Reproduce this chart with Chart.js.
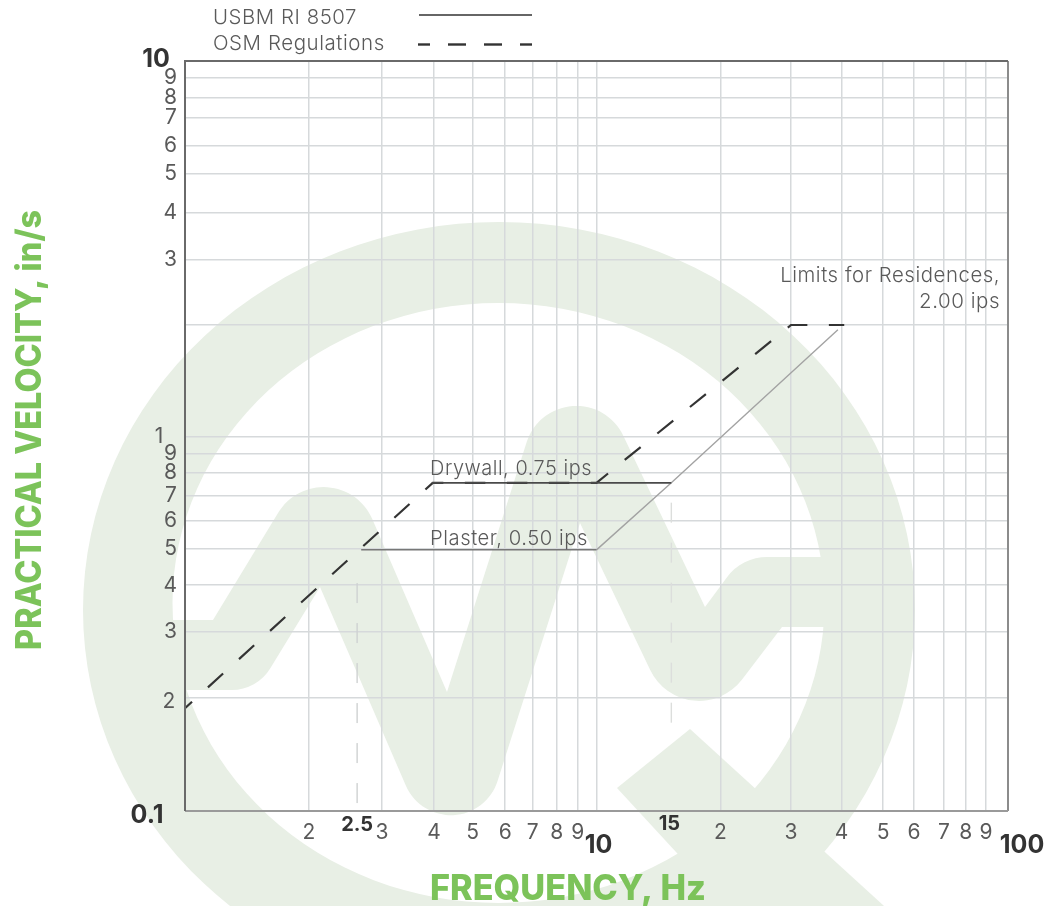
<!DOCTYPE html>
<html>
<head>
<meta charset="utf-8">
<title>Practical velocity vs frequency</title>
<script src="https://cdn.jsdelivr.net/npm/chart.js@4"></script>
<style>
    html, body { margin: 0; padding: 0; background: #fff; }
    canvas { display: block; filter: blur(0.6px); }
</style>
</head>
<body>
<canvas id="chart" width="1047" height="906"></canvas>
<script>
// values, the printed grid is a little off a true log grid
const xTicks = [1, 2, 3.01, 4.03, 5, 6, 7, 8, 9, 10, 20, 29.7, 39.4, 49.7, 59.1, 69.9, 78.9, 88.4, 100]
const xTickLabels = ["", "2", "3", "4", "5", "6", "7", "8", "9", "", "2", "3", "4", "5", "6", "7", "8", "9", ""]
const yTicks = [0.1, 0.201, 0.3, 0.4, 0.5, 0.593, 0.693, 0.8, 0.895, 0.994, 1.977, 2.95, 3.94, 5, 5.94, 7.05, 8, 9, 10]
const yTickLabels = ["", "", "3", "4", "5", "6", "7", "8", "9", "", "", "3", "4", "5", "6", "7", "8", "9", ""]

const osmFreq = [1, 4, 10, 29.7, 40]
const osmVel = [0.188, 0.75, 0.75, 1.977, 1.977]
const plasterFreq = [2.68, 10]
const plasterVel = [0.497, 0.497]
const drywallFreq = [3.98, 15.2]
const drywallVel = [0.75, 0.75]
const slopeFreq = [10, 15.2, 38.6]
const slopeVel = [0.497, 0.75, 1.92]
const guideLowFreq = [2.62, 2.62]
const guideLowVel = [0.105, 0.408]
const guideHighFreq = [15.2, 15.2]
const guideHighVel = [0.172, 0.675]

const xTitle = "FREQUENCY, Hz"
const yTitle = "PRACTICAL VELOCITY, in/s"
const legendLabels = ["USBM RI 8507", "OSM Regulations"]

const FONT = "Inter, sans-serif"
const TEXT = "#5a5a5a"
const DARK = "#333333"
const GREEN = "#7cc35a"
const LOGO = "#e8efe5"
const GRID = "#d6d9db"

function toPoints(xs, ys) {
    return xs.map((x, i) => ({ x: x, y: ys[i] }))
}

// rounded polygon, each vertex is [x, y, radius]
function roundedPath(ctx, pts) {
    ctx.beginPath()
    const n = pts.length
    ctx.moveTo((pts[n - 1][0] + pts[0][0]) / 2, (pts[n - 1][1] + pts[0][1]) / 2)
    pts.forEach((p, i) => {
        const next = pts[(i + 1) % n]
        if (p[2]) ctx.arcTo(p[0], p[1], next[0], next[1], p[2])
        else ctx.lineTo(p[0], p[1])
    })
    ctx.closePath()
}

// pale logo behind the chart, this is decoration and not data
const backdrop = {
    id: "backdrop",
    beforeDraw(chart) {
        const ctx = chart.ctx
        ctx.save()
        ctx.fillStyle = "#ffffff"
        ctx.fillRect(0, 0, chart.width, chart.height)
        ctx.fillStyle = LOGO
        // ring
        ctx.beginPath()
        ctx.ellipse(499, 610, 416, 388, 0, 0, Math.PI * 2)
        ctx.ellipse(498.5, 603, 326, 300, 0, 0, Math.PI * 2)
        ctx.fill("evenodd")
        // wave
        roundedPath(ctx, [
            [130, 620, 0], [213, 620, 0], [331.6, 425, 53], [447, 692, 0],
            [566.6, 317, 52], [705, 607, 0], [742, 557, 50], [850, 557, 0],
            [850, 627, 0], [782, 627, 0], [688.5, 750, 54], [580, 523, 0],
            [457.8, 905.6, 49], [320, 587, 0], [257, 690, 45], [130, 690, 0],
        ])
        ctx.fill()
        // tail
        ctx.beginPath()
        ctx.moveTo(617, 788)
        ctx.lineTo(690, 729)
        ctx.lineTo(895, 916)
        ctx.lineTo(735, 916)
        ctx.closePath()
        ctx.fill()
        ctx.restore()
    },
}

const overlay = {
    id: "overlay",
    afterDraw(chart) {
        const ctx = chart.ctx
        const area = chart.chartArea
        const sx = chart.scales.x
        const sy = chart.scales.y
        ctx.save()

        // frame
        ctx.lineCap = "butt"
        ctx.strokeStyle = "#8c8c8c"
        ctx.lineWidth = 2
        ctx.beginPath()
        ctx.moveTo(area.right, area.top)
        ctx.lineTo(area.right, area.bottom)
        ctx.stroke()
        ctx.strokeStyle = "#9a9a9a"
        ctx.beginPath()
        ctx.moveTo(area.left, area.bottom)
        ctx.lineTo(area.right, area.bottom)
        ctx.stroke()
        ctx.strokeStyle = "#6a6a6a"
        ctx.beginPath()
        ctx.moveTo(area.left, area.bottom)
        ctx.lineTo(area.left, area.top)
        ctx.lineTo(area.right, area.top)
        ctx.stroke()

        // tick labels that sit off the regular rows
        ctx.textAlign = "center"
        ctx.textBaseline = "middle"
        ctx.fillStyle = DARK
        ctx.font = "700 20px " + FONT
        ctx.fillText("2.5", sx.getPixelForValue(guideLowFreq[0]), 825)
        ctx.fillText("15", sx.getPixelForValue(guideHighFreq[0]) - 2, 824)
        ctx.font = "700 25px " + FONT
        ctx.fillText("10", sx.getPixelForValue(10) + 2, 845)
        ctx.fillText("100", sx.getPixelForValue(100) + 14, 845)
        ctx.fillText("10", 156, sy.getPixelForValue(10) - 2)
        ctx.fillText("0.1", 147, sy.getPixelForValue(0.1) + 4)
        ctx.font = "400 21px " + FONT
        ctx.fillStyle = TEXT
        ctx.fillText("1", 159, sy.getPixelForValue(yTicks[9]))
        ctx.fillText("2", 169, sy.getPixelForValue(yTicks[1]) + 4)

        // annotations
        ctx.font = "300 20.5px " + FONT
        ctx.letterSpacing = "0.55px"
        ctx.textBaseline = "alphabetic"
        ctx.textAlign = "left"
        ctx.fillText("Drywall, 0.75 ips", sx.getPixelForValue(3.94), sy.getPixelForValue(0.75) - 8, 162)
        ctx.fillText("Plaster, 0.50 ips", sx.getPixelForValue(3.94), sy.getPixelForValue(0.5) - 4, 158)
        ctx.textAlign = "right"
        ctx.fillText("Limits for Residences,", sx.getPixelForValue(95.7), sy.getPixelForValue(2) - 41, 220)
        ctx.fillText("2.00 ips", sx.getPixelForValue(95.7), sy.getPixelForValue(2) - 15, 82)

        // legend
        ctx.textAlign = "left"
        ctx.fillText(legendLabels[0], 213, 24, 144)
        ctx.fillText(legendLabels[1], 213, 50, 175)
        ctx.letterSpacing = "0px"
        ctx.strokeStyle = "#333333"
        ctx.lineWidth = 1.3
        ctx.beginPath()
        ctx.moveTo(419, 15)
        ctx.lineTo(532, 15)
        ctx.stroke()
        ctx.lineWidth = 2.4
        ctx.setLineDash([18, 18])
        ctx.lineDashOffset = 6
        ctx.beginPath()
        ctx.moveTo(418, 44.5)
        ctx.lineTo(532, 44.5)
        ctx.stroke()
        ctx.setLineDash([])

        // axis titles
        ctx.fillStyle = GREEN
        ctx.font = "800 35px " + FONT
        ctx.textAlign = "center"
        ctx.textBaseline = "alphabetic"
        ctx.fillText(xTitle, 568, 900, 276)
        ctx.translate(41, 430)
        ctx.rotate(-Math.PI / 2)
        ctx.fillText(yTitle, 0, 0, 440)
        ctx.restore()
    },
}

new Chart(document.getElementById("chart"), {
    type: "line",
    data: {
        datasets: [
            { label: "guide 2.5 Hz", data: toPoints(guideLowFreq, guideLowVel), borderColor: "#cfd2d2", borderWidth: 1.4, borderDash: [20, 20], pointRadius: 0 },
            { label: "guide 15 Hz", data: toPoints(guideHighFreq, guideHighVel), borderColor: "#dcdedc", borderWidth: 1.4, borderDash: [20, 20], pointRadius: 0 },
            { label: "Plaster", data: toPoints(plasterFreq, plasterVel), borderColor: "#777777", borderWidth: 1.5, pointRadius: 0 },
            { label: "Drywall", data: toPoints(drywallFreq, drywallVel), borderColor: "#4a4a4a", borderWidth: 1.6, pointRadius: 0 },
            { label: "USBM RI 8507", data: toPoints(slopeFreq, slopeVel), borderColor: "#a3a3a3", borderWidth: 1.4, pointRadius: 0 },
            { label: "OSM Regulations", data: toPoints(osmFreq, osmVel), borderColor: "#333333", borderWidth: 2.2, borderDash: [20.5, 21.5], borderDashOffset: 11, pointRadius: 0 },
        ],
    },
    options: {
        responsive: false,
        animation: false,
        layout: { padding: { left: 0, top: 61, right: 39, bottom: 0 } },
        plugins: { legend: { display: false }, tooltip: { enabled: false } },
        scales: {
            x: {
                type: "logarithmic",
                min: 1,
                max: 100,
                afterBuildTicks(scale) { scale.ticks = xTicks.map((v) => ({ value: v })) },
                afterFit(scale) { scale.height = 95 },
                border: { display: false },
                grid: { color: GRID, lineWidth: 1.5, drawTicks: false },
                ticks: {
                    color: TEXT,
                    padding: 9,
                    autoSkip: false,
                    maxRotation: 0,
                    font: { family: FONT, size: 21, weight: 400 },
                    callback(v, i) { return xTickLabels[i] },
                },
            },
            y: {
                type: "logarithmic",
                min: 0.1,
                max: 10,
                afterBuildTicks(scale) { scale.ticks = yTicks.map((v) => ({ value: v })) },
                afterFit(scale) { scale.width = 185 },
                border: { display: false },
                grid: { color: GRID, lineWidth: 1.5, drawTicks: false },
                ticks: {
                    color: TEXT,
                    padding: 8,
                    autoSkip: false,
                    font: { family: FONT, size: 21, weight: 400 },
                    callback(v, i) { return yTickLabels[i] },
                },
            },
        },
    },
    plugins: [backdrop, overlay],
})
</script>
</body>
</html>
